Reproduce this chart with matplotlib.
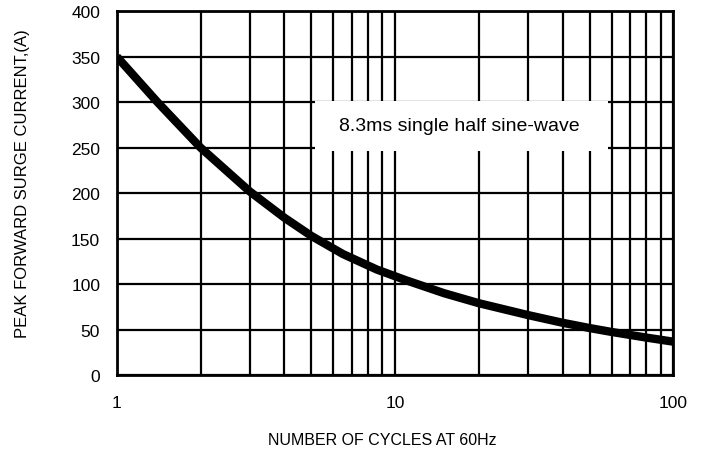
import numpy as np
import matplotlib.pyplot as plt
from matplotlib.patches import Rectangle

plt.rcParams['font.family'] = ['Liberation Sans', 'DejaVu Sans']

# curve
cycles = [1, 1.4, 2, 3, 4, 5, 6.5, 8.6, 11, 15, 20, 30, 40, 50, 60, 80, 100]
current = [350, 300, 250, 202, 173, 153, 133, 116, 104, 90, 79, 66, 57.5, 51.7, 47.4, 41.2, 36.7]

fig = plt.figure(figsize=(7.08, 4.52), dpi=100)
ax = fig.add_axes([0.165, 0.168, 0.786, 0.805])

ax.set_xscale('log')
ax.set_xlim(1, 100)
ax.set_ylim(0, 400)
ax.set_yticks(range(0, 401, 50))
ax.set_xticks([1, 10, 100])
ax.set_xticklabels(['1', '10', '100'])

ax.grid(True, which='both', axis='x', color='black', lw=1.6)
ax.grid(True, which='major', axis='y', color='black', lw=1.6)
ax.set_axisbelow(True)
ax.tick_params(which='both', length=0, labelsize=12.5)
ax.tick_params(axis='y', pad=12)
ax.tick_params(axis='x', pad=14)
for s in ax.spines.values():
    s.set_linewidth(2)

ax.plot(cycles, current, color='black', lw=6, solid_capstyle='butt',
        solid_joinstyle='round', zorder=4)

ax.add_patch(Rectangle((5.15, 246), 58.3 - 5.15, 55, facecolor='white',
                       edgecolor='none', zorder=3))
ax.text(17.0, 274, '8.3ms single half sine-wave', ha='center', va='center',
        fontsize=14, zorder=5)

ax.set_xlabel('NUMBER OF CYCLES AT 60Hz', fontsize=11.5)
ax.set_ylabel('PEAK FORWARD SURGE CURRENT,(A)', fontsize=12)
ax.xaxis.set_label_coords(0.477, -0.157)
ax.yaxis.set_label_coords(-0.156, 0.53)

plt.savefig('out.png', dpi=100)
